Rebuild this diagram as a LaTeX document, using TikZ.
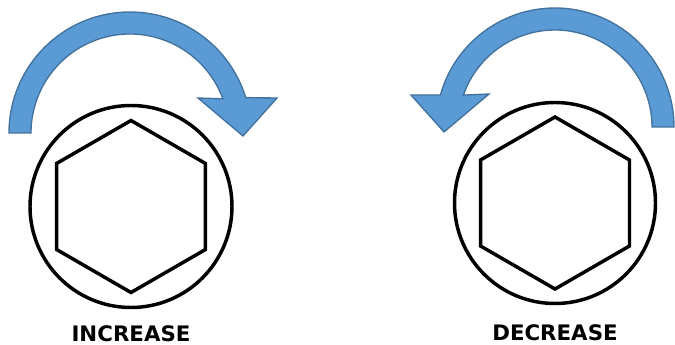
\documentclass[tikz,border=0pt]{standalone}
\usepackage{fontspec}
\newfontfamily\labelfont{DejaVu Sans}
\usepackage{xcolor}
\usetikzlibrary{calc}
\definecolor{arrowfill}{HTML}{5B9BD5}
\definecolor{arrowedge}{HTML}{41719C}

\begin{document}
\begin{tikzpicture}[x=0.75pt,y=0.75pt,yscale=-1,xscale=1,
		turnarrow/.style={fill=arrowfill, draw=arrowedge, line width=1pt, line join=miter},
		ring/.style={line width=2.6pt},
		hexline/.style={line width=2.6pt, line join=miter},
		caption/.style={font=\labelfont\bfseries\fontsize{16}{18}\selectfont, inner sep=0pt}]
		\useasboundingbox (0,0) rectangle (675,345);

		\coordinate (lc) at (131,206.5);
		\coordinate (rc) at (555,203);
		\coordinate (la) at (130,133);
		\coordinate (ra) at (555,127);

		\draw [turnarrow] ($(la)+(180:121)$) arc [start angle=180, end angle=343, radius=121]
			-- (277,98) -- (243,136) -- (198,98)
			-- ($(la)+(339.8:99)$) arc [start angle=339.8, end angle=180, radius=99] -- cycle;

		\draw [turnarrow] ($(ra)+(0:119)$) arc [start angle=360, end angle=195.6, radius=119]
			-- (411,95) -- (444,132) -- (489,94)
			-- ($(ra)+(199.2:97)$) arc [start angle=199.2, end angle=360, radius=97] -- cycle;

		\draw [ring, fill=white] (lc) circle (101);
		\draw [hexline, shift={(lc)}] (90:86) -- (150:86) -- (210:86) -- (270:86) -- (330:86) -- (30:86) -- cycle;
		\draw [ring, fill=white] (rc) circle (100.5);
		\draw [hexline, shift={(rc)}] (90:86) -- (150:86) -- (210:86) -- (270:86) -- (330:86) -- (30:86) -- cycle;

		\node [caption] (inc) at (131,333.5) {INCREASE};
		\node [caption] (dec) at (555,332.5) {DECREASE};
		\end{tikzpicture}
\end{document}
